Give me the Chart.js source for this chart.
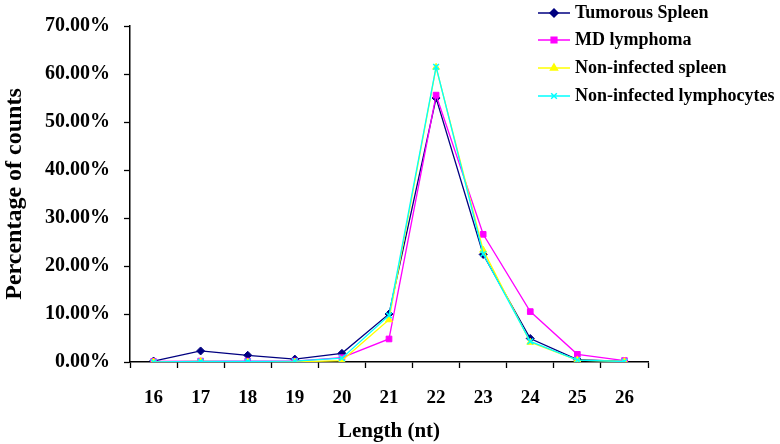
<!DOCTYPE html>
<html>
<head>
<meta charset="utf-8">
<script src="https://cdn.jsdelivr.net/npm/chart.js@4.4.1/dist/chart.umd.min.js"></script>
<style>
  html, body { margin: 0; padding: 0; background: #fff; }
  #wrap { width: 780px; height: 444px; }
</style>
</head>
<body>
<div id="wrap"><canvas id="chart" width="780" height="444"></canvas></div>
<script>
// in percent
const lengths = ['16', '17', '18', '19', '20', '21', '22', '23', '24', '25', '26'];
const tumorousSpleen = [0.2, 2.3, 1.4, 0.6, 1.8, 10.0, 55.0, 22.4, 4.9, 0.5, 0.1];
const mdLymphoma = [0.1, 0.2, 0.2, 0.2, 0.9, 4.8, 55.6, 26.6, 10.5, 1.6, 0.3];
const nonInfSpleen = [0.0, 0.1, 0.0, 0.0, 0.3, 8.8, 61.4, 23.3, 4.1, 0.4, 0.1];
const nonInfLymph = [0.0, 0.1, 0.1, 0.2, 0.8, 9.7, 61.5, 22.5, 4.3, 0.4, 0.1];
const seriesNames = ['Tumorous Spleen', 'MD lymphoma', 'Non-infected spleen', 'Non-infected lymphocytes'];
const yTicks = [0, 10, 20, 30, 40, 50, 60, 70];

const FONT = '"Liberation Serif", "Times New Roman", serif';

function series(i, data, color, style, radius) {
  return {
    label: seriesNames[i],
    data: data,
    borderColor: color,
    backgroundColor: color,
    borderWidth: 1.3,
    pointStyle: style,
    pointRadius: radius,
    pointBorderWidth: style === 'crossRot' ? 1.5 : 1,
    tension: 0,
    order: 3 - i  // later series on top, like the original
  };
}

// legend with a short line and the marker, drawn from the dataset styles
const lineLegend = {
  id: 'lineLegend',
  afterDraw(chart) {
    const c = chart.ctx;
    const x0 = 538, x1 = 570, tx = 575;
    const rowY = [13, 40, 68, 96];
    c.save();
    chart.data.datasets.forEach((ds, i) => {
      const y = rowY[i];
      c.strokeStyle = ds.borderColor;
      c.lineWidth = 1.5;
      c.beginPath();
      c.moveTo(x0, y);
      c.lineTo(x1, y);
      c.stroke();
      c.fillStyle = ds.backgroundColor;
      Chart.helpers.drawPoint(c, {
        pointStyle: ds.pointStyle, radius: ds.pointRadius, rotation: 0,
        borderWidth: ds.pointBorderWidth
      }, (x0 + x1) / 2, y);
      c.fillStyle = '#000';
      c.font = 'bold 18px ' + FONT;
      c.textBaseline = 'middle';
      c.textAlign = 'left';
      c.fillText(ds.label, tx, y);
    });
    c.restore();
  }
};

new Chart(document.getElementById('chart'), {
  type: 'line',
  data: {
    labels: lengths,
    datasets: [
      series(0, tumorousSpleen, '#000080', 'rectRot', 4),
      series(1, mdLymphoma, '#FF00FF', 'rect', 4),
      series(2, nonInfSpleen, '#FFFF00', 'triangle', 4),
      series(3, nonInfLymph, '#00FFFF', 'crossRot', 4)
    ]
  },
  options: {
    responsive: false,
    animation: false,
    layout: { padding: { top: 15, right: 132, left: 0, bottom: 0 } },
    plugins: { legend: { display: false }, tooltip: { enabled: false } },
    scales: {
      x: {
        offset: true,
        grid: { display: true, drawOnChartArea: false, offset: true, color: '#000', tickLength: 6, tickWidth: 1.3 },
        border: { color: '#000', width: 1.5 },
        ticks: { color: '#000', font: { family: FONT, size: 19, weight: 'bold' }, padding: 19, maxRotation: 0 },
        title: { display: true, text: 'Length (nt)', color: '#000', font: { family: FONT, size: 21, weight: 'bold' }, padding: 0 },
        afterFit(s) { s.height = 82; }
      },
      y: {
        min: 0,
        max: 70,
        afterBuildTicks(s) { s.ticks = yTicks.map(v => ({ value: v })); },
        grid: { display: true, drawOnChartArea: false, color: '#000', tickLength: 6, tickWidth: 1.3 },
        border: { color: '#000', width: 1.5 },
        ticks: {
          color: '#000', font: { family: FONT, size: 20, weight: 'bold' }, padding: 14,
          callback: v => v.toFixed(2) + '%'
        },
        title: { display: true, text: 'Percentage of counts', color: '#000', font: { family: FONT, size: 24, weight: 'bold' }, padding: { top: 0, bottom: 0 } },
        afterFit(s) { s.width = 130; }
      }
    }
  },
  plugins: [lineLegend]
});
</script>
</body>
</html>
